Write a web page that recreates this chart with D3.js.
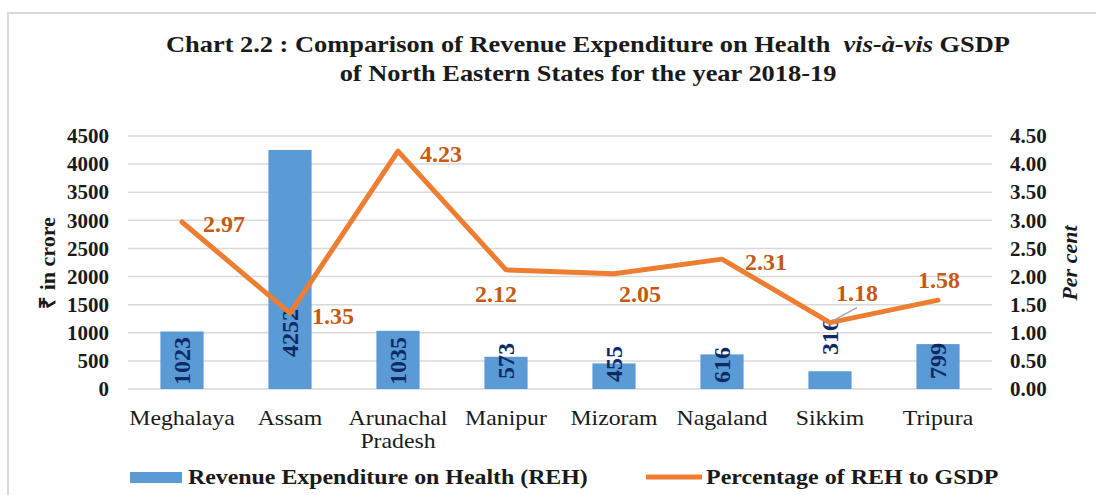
<!DOCTYPE html>
<html>
<head>
<meta charset="utf-8">
<script src="https://cdn.jsdelivr.net/npm/d3@7"></script>
<style>
  body { margin: 0; background: #fff; }
  text { font-family: "Liberation Serif", "Times New Roman", serif; }
</style>
</head>
<body>
<div id="chart-area"></div>
<script>
// data
const states = ['Meghalaya', 'Assam', 'Arunachal Pradesh', 'Manipur', 'Mizoram', 'Nagaland', 'Sikkim', 'Tripura'];
const reh = [1023, 4252, 1035, 573, 455, 616, 316, 799];
const pctGsdp = [2.97, 1.35, 4.23, 2.12, 2.05, 2.31, 1.18, 1.58];
const leftTicks = [0, 500, 1000, 1500, 2000, 2500, 3000, 3500, 4000, 4500];
const rightTicks = [0, 0.5, 1, 1.5, 2, 2.5, 3, 3.5, 4, 4.5];

const W = 1096, H = 495;
const margin = { left: 128, right: 104, top: 136, bottom: 106 };
const width = W - margin.left - margin.right;
const height = H - margin.top - margin.bottom;

const blue = '#5b9bd5';
const orange = '#ed7d31';
const labelOrange = '#c55a11';
const navy = '#0e2a66';
const grid = '#d9d9d9';
const stretch = 1.1; // the source text is a little wider than Liberation Serif

const svg = d3.select('#chart-area')
    .append('svg')
        .attr('width', W)
        .attr('height', H);

// frame
svg.append('rect')
    .attr('x', 8).attr('y', 13)
    .attr('width', 1100).attr('height', 500)
    .attr('fill', 'none')
    .attr('stroke', grid)
    .attr('stroke-width', 2);

// title
const titleG = svg.append('g')
    .attr('transform', `translate(588, 0) scale(${stretch}, 1)`);
const title = titleG.append('text')
    .attr('x', 0).attr('y', 52)
    .attr('text-anchor', 'middle')
    .attr('font-size', '24px')
    .attr('font-weight', 'bold')
    .attr('fill', '#1a1a1a');
title.append('tspan').text('Chart 2.2 : Comparison of Revenue Expenditure on Health\u00a0 ');
title.append('tspan').attr('font-style', 'italic').text('vis-à-vis');
title.append('tspan').text(' GSDP');
titleG.append('text')
    .attr('x', 0).attr('y', 81)
    .attr('text-anchor', 'middle')
    .attr('font-size', '24px')
    .attr('font-weight', 'bold')
    .attr('fill', '#1a1a1a')
    .text('of North Eastern States for the year 2018-19');

const g = svg.append('g')
    .attr('transform', `translate(${margin.left}, ${margin.top})`);

// scales
const x = d3.scaleBand()
    .domain(states)
    .range([0, width])
    .paddingInner(0.6)
    .paddingOuter(0.3);

const y = d3.scaleLinear()
    .domain([0, 4500])
    .range([height, 0]);

const y2 = d3.scaleLinear()
    .domain([0, 4.5])
    .range([height, 0]);

const cx = s => x(s) + x.bandwidth() / 2;

// gridlines
g.append('g')
    .selectAll('line')
    .data(leftTicks)
    .enter()
        .append('line')
            .attr('x1', 0)
            .attr('x2', width)
            .attr('y1', d => y(d))
            .attr('y2', d => y(d))
            .attr('stroke', grid)
            .attr('stroke-width', 1.5);

// left axis
const yAxisCall = d3.axisLeft(y)
    .tickValues(leftTicks)
    .tickSize(0)
    .tickPadding(19)
    .tickFormat(d3.format('d'));
const yAxis = g.append('g').call(yAxisCall);
yAxis.select('.domain').remove();
yAxis.selectAll('text')
    .attr('font-size', '21px')
    .attr('font-weight', 'bold')
    .attr('fill', '#1a1a1a')
    .attr('font-family', '"Liberation Serif", serif');

// right axis
const y2AxisCall = d3.axisRight(y2)
    .tickValues(rightTicks)
    .tickSize(0)
    .tickPadding(18)
    .tickFormat(d3.format('.2f'));
const y2Axis = g.append('g')
    .attr('transform', `translate(${width}, 0)`)
    .call(y2AxisCall);
y2Axis.select('.domain').remove();
y2Axis.selectAll('text')
    .attr('font-size', '21px')
    .attr('font-weight', 'bold')
    .attr('fill', '#1a1a1a')
    .attr('font-family', '"Liberation Serif", serif');

// x labels
const xl = g.append('g')
    .selectAll('text')
    .data(states)
    .enter()
        .append('text')
            .attr('transform', d => `translate(${cx(d)}, ${height + 36}) scale(${stretch - 0.02}, 1)`)
            .attr('text-anchor', 'middle')
            .attr('font-size', '22px')
            .attr('fill', '#1a1a1a');
xl.each(function(d) {
    const words = d.split(' ');
    d3.select(this).selectAll('tspan')
        .data(words)
        .enter()
            .append('tspan')
                .attr('x', 0)
                .attr('dy', (w, i) => i ? 23 : 0)
                .text(w => w);
});

// axis titles
svg.append('text')
    .attr('transform', `translate(55, 263) rotate(-90)`)
    .attr('text-anchor', 'middle')
    .attr('font-size', '22px')
    .attr('font-weight', 'bold')
    .attr('fill', '#1a1a1a')
    .text('₹ in crore');

svg.append('text')
    .attr('transform', `translate(1077, 263) rotate(-90)`)
    .attr('text-anchor', 'middle')
    .attr('font-size', '22px')
    .attr('font-weight', 'bold')
    .attr('font-style', 'italic')
    .attr('fill', '#1a1a1a')
    .text('Per cent');

// bars
const rows = states.map((s, i) => ({ state: s, reh: reh[i], pct: pctGsdp[i] }));

g.selectAll('rect.bar')
    .data(rows)
    .enter()
        .append('rect')
            .attr('class', 'bar')
            .attr('x', d => x(d.state))
            .attr('y', d => y(d.reh))
            .attr('width', x.bandwidth())
            .attr('height', d => height - y(d.reh))
            .attr('fill', blue);

// bar labels (a few were nudged by hand in the original)
const barNudge = { 'Assam': -28, 'Sikkim': -24, 'Mizoram': 3, 'Nagaland': 4 };
g.selectAll('text.barlabel')
    .data(rows)
    .enter()
        .append('text')
            .attr('class', 'barlabel')
            .attr('transform', d => `translate(${cx(d.state)}, ${y(500) + (barNudge[d.state] || 0)}) rotate(-90)`)
            .attr('text-anchor', 'middle')
            .attr('dominant-baseline', 'central')
            .attr('font-size', '24px')
            .attr('font-weight', 'bold')
            .attr('fill', navy)
            .text(d => d.reh);

// line
const line = d3.line()
    .x(d => cx(d.state))
    .y(d => y2(d.pct));

g.append('path')
    .datum(rows)
    .attr('d', line)
    .attr('fill', 'none')
    .attr('stroke', orange)
    .attr('stroke-width', 5)
    .attr('stroke-linejoin', 'round')
    .attr('stroke-linecap', 'round');

// line labels: offset of label centre from its point
const pctOffset = [[42, 2], [43, 3], [43, 3], [-10, 24], [26, 20], [44, 3], [27, -30], [1, -20]];

// leader line for Sikkim
const sk = rows[6];
g.append('line')
    .attr('x1', cx(sk.state) + 3)
    .attr('y1', y2(sk.pct) - 2)
    .attr('x2', cx(sk.state) + 27)
    .attr('y2', y2(sk.pct) - 15)
    .attr('stroke', '#a6a6a6')
    .attr('stroke-width', 1.5);

g.selectAll('text.pctlabel')
    .data(rows)
    .enter()
        .append('text')
            .attr('class', 'pctlabel')
            .attr('x', (d, i) => cx(d.state) + pctOffset[i][0])
            .attr('y', (d, i) => y2(d.pct) + pctOffset[i][1])
            .attr('text-anchor', 'middle')
            .attr('dominant-baseline', 'central')
            .attr('font-size', '24px')
            .attr('font-weight', 'bold')
            .attr('fill', labelOrange)
            .text(d => d3.format('.2f')(d.pct));

// legend
const legend = svg.append('g');
legend.append('rect')
    .attr('x', 130).attr('y', 472)
    .attr('width', 52).attr('height', 11)
    .attr('fill', blue);
legend.append('text')
    .attr('transform', `translate(188, 484) scale(1.085, 1)`)
    .attr('font-size', '22px')
    .attr('font-weight', 'bold')
    .attr('fill', '#1a1a1a')
    .text('Revenue Expenditure on Health (REH)');
legend.append('line')
    .attr('x1', 646).attr('x2', 702)
    .attr('y1', 477).attr('y2', 477)
    .attr('stroke', orange)
    .attr('stroke-width', 5);
legend.append('text')
    .attr('transform', `translate(706, 484) scale(1.09, 1)`)
    .attr('font-size', '22px')
    .attr('font-weight', 'bold')
    .attr('fill', '#1a1a1a')
    .text('Percentage of REH to GSDP');
</script>
</body>
</html>
